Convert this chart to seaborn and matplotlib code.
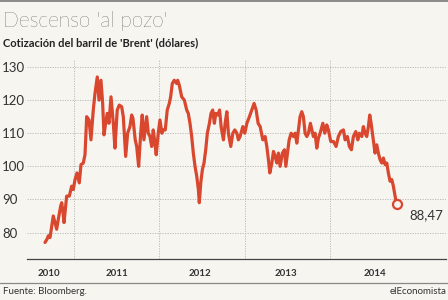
import numpy as np
import pandas as pd
import matplotlib
matplotlib.use("Agg")
import matplotlib.pyplot as plt
import seaborn as sns

# ---- data (decimal year, Brent USD) ----
years = [
    2010.660, 2010.684, 2010.699, 2010.719, 2010.757, 2010.777, 2010.797, 2010.816, 2010.844, 2010.856,
    2010.871, 2010.883, 2010.914, 2010.945, 2010.973, 2010.992, 2011.012, 2011.035, 2011.062, 2011.082,
    2011.109, 2011.129, 2011.149, 2011.176, 2011.199, 2011.226, 2011.246, 2011.273, 2011.293, 2011.316,
    2011.336, 2011.352, 2011.371, 2011.390, 2011.410, 2011.434, 2011.461, 2011.480, 2011.507, 2011.531,
    2011.559, 2011.578, 2011.606, 2011.629, 2011.656, 2011.676, 2011.691, 2011.718, 2011.735, 2011.758,
    2011.782, 2011.800, 2011.820, 2011.852, 2011.871, 2011.891, 2011.911, 2011.929, 2011.949, 2011.964,
    2011.988, 2012.008, 2012.031, 2012.047, 2012.070, 2012.093, 2012.117, 2012.133, 2012.152, 2012.175,
    2012.204, 2012.215, 2012.234, 2012.262, 2012.293, 2012.321, 2012.339, 2012.359, 2012.379, 2012.398,
    2012.418, 2012.438, 2012.457, 2012.468, 2012.485, 2012.504, 2012.523, 2012.543, 2012.562, 2012.586,
    2012.605, 2012.625, 2012.644, 2012.661, 2012.684, 2012.705, 2012.723, 2012.750, 2012.770, 2012.790,
    2012.808, 2012.836, 2012.860, 2012.883, 2012.907, 2012.925, 2012.945, 2012.977, 2013.000, 2013.024,
    2013.054, 2013.082, 2013.109, 2013.133, 2013.156, 2013.180, 2013.211, 2013.238, 2013.258, 2013.277,
    2013.293, 2013.317, 2013.336, 2013.356, 2013.375, 2013.394, 2013.414, 2013.441, 2013.465, 2013.481,
    2013.500, 2013.520, 2013.543, 2013.570, 2013.590, 2013.610, 2013.629, 2013.648, 2013.668, 2013.687,
    2013.707, 2013.727, 2013.746, 2013.769, 2013.786, 2013.804, 2013.824, 2013.844, 2013.863, 2013.883,
    2013.915, 2013.938, 2013.961, 2013.980, 2014.008, 2014.039, 2014.070, 2014.097, 2014.125, 2014.156,
    2014.176, 2014.203, 2014.226, 2014.250, 2014.273, 2014.301, 2014.325, 2014.343, 2014.372, 2014.390,
    2014.410, 2014.430, 2014.449, 2014.465, 2014.481, 2014.496, 2014.512, 2014.527, 2014.547, 2014.566,
    2014.586, 2014.606, 2014.625, 2014.645, 2014.665, 2014.683, 2014.703, 2014.723, 2014.742, 2014.762,
    2014.782,
]
prices = [
    77, 78, 79, 78.5, 85, 83, 81, 84, 88, 89,
    86, 83, 91, 91, 94, 93, 96, 98, 95, 100.5,
    101, 103.5, 115, 114, 108, 117, 122, 127, 120, 126,
    119, 109.5, 113, 116, 113, 121, 113, 105.5, 117, 118.5,
    118, 115, 103, 110, 112, 115.5, 114.5, 108, 106, 100,
    110, 115.5, 108, 115, 110, 109, 106, 111, 107, 103.5,
    110, 114, 110, 111, 111, 117, 119, 121, 125, 126,
    125, 126, 124.5, 121, 120, 117, 116, 113, 109, 104,
    100, 97, 93, 89, 95, 99, 101, 105, 110, 113,
    116, 117, 113, 116, 115.5, 117, 112, 108, 113, 116.5,
    110, 106, 110, 111, 110, 108, 109, 112, 110, 113,
    115, 117, 119, 117, 113, 112, 108, 109, 106, 102,
    98, 101, 104.5, 103, 101, 104, 100, 104, 105, 100,
    104, 108, 110, 109, 110, 107, 111, 115, 116.5, 115,
    110, 109, 110, 113, 111, 109, 110, 105.5, 108.5, 110,
    113, 110, 112.5, 111, 107.5, 107.5, 106, 109, 110.5, 111,
    108, 109, 106, 105, 109, 110.5, 108, 110, 109, 112,
    110, 109, 112, 115.5, 113, 110, 107, 104, 106.5, 104,
    102, 101, 102.5, 100.5, 101, 98, 95.5, 96, 94, 91,
    88.47,
]
year_labels = ["2010", "2011", "2012", "2013", "2014"]
year_label_pos = [2010.71, 2011.5, 2012.47, 2013.48, 2014.52]
year_bounds = [2011, 2012, 2013, 2014]
y_ticks = [80, 90, 100, 110, 120, 130]
last_label = "88,47"

title = "Descenso 'al pozo'"
subtitle = "Cotización del barril de 'Brent' (dólares)"
source = "Fuente: Bloomberg."
brand = "elEconomista"


def to_date(y):
    yr = int(np.floor(y))
    start = pd.Timestamp(year=yr, month=1, day=1)
    end = pd.Timestamp(year=yr + 1, month=1, day=1)
    return start + (end - start) * (y - yr)


df = pd.DataFrame({"date": [to_date(y) for y in years], "price": prices})

BG = "#f7f5f0"
RED = "#d9472f"
GRID = "#b5b5b5"
TXT = "#333333"

sns.set_theme(style="white")
plt.rcParams["font.family"] = ["Lato", "DejaVu Sans"]

fig = plt.figure(figsize=(4.48, 3.0), dpi=100, facecolor=BG)
ax = fig.add_axes([27 / 448, 1 - 259 / 300, (446 - 27) / 448, (259 - 60.4) / 300])
ax.set_facecolor(BG)

sns.lineplot(data=df, x="date", y="price", ax=ax, color=RED, linewidth=2.3, zorder=3)
ax.plot([df["date"].iloc[-1]], [df["price"].iloc[-1]], "o", ms=6.5, mfc=BG, mec=RED,
        mew=1.6, zorder=4)
ax.annotate(last_label, (df["date"].iloc[-1], df["price"].iloc[-1]), xytext=(9, -8),
            textcoords="offset points", fontsize=9.5, color=TXT, ha="left", va="center")

ax.set_xlim(to_date(2010.449), to_date(2015.359))
ax.set_ylim(72, 132)

ax.set_xticks([to_date(y) for y in year_bounds])
ax.set_xticklabels([])
ax.set_xticks([to_date(y) for y in year_label_pos], minor=True)
ax.set_xticklabels(year_labels, minor=True, fontsize=7, fontweight="bold", color=TXT)
ax.tick_params(axis="x", which="both", length=0, pad=7)

ax.set_yticks(y_ticks)
ax.set_yticklabels([str(v) for v in y_ticks], fontsize=9.5, color=TXT, ha="left")
ax.tick_params(axis="y", length=0, pad=18)

ax.grid(True, which="major", axis="both", color=GRID, linestyle=(0, (1.5, 1.5)), linewidth=0.6)
ax.set_axisbelow(True)
for s in ["top", "right", "left"]:
    ax.spines[s].set_visible(False)
ax.spines["bottom"].set_color("#444444")
ax.spines["bottom"].set_linewidth(0.9)
ax.set_xlabel("")
ax.set_ylabel("")

fig.text(3 / 448, 1 - 21 / 300, title, fontsize=15, fontweight="light", color="#111111",
         ha="left", va="center")
fig.text(3 / 448, 1 - 43 / 300, subtitle, fontsize=8, fontweight="bold", color="#222222",
         ha="left", va="center")
fig.text(3 / 448, 1 - 292 / 300, source, fontsize=7, color=TXT, ha="left", va="center")
fig.text(446 / 448, 1 - 292 / 300, brand, fontsize=7, color=TXT, ha="right", va="center")

fig.add_artist(plt.Line2D([0, 1], [1 - 0.8 / 300, 1 - 0.8 / 300], transform=fig.transFigure,
                          color="#777777", linewidth=1.2))
fig.add_artist(plt.Line2D([0, 1], [1 - 283 / 300, 1 - 283 / 300], transform=fig.transFigure,
                          color="#888888", linewidth=0.9))

fig.savefig("out.png", dpi=100, facecolor=BG)
